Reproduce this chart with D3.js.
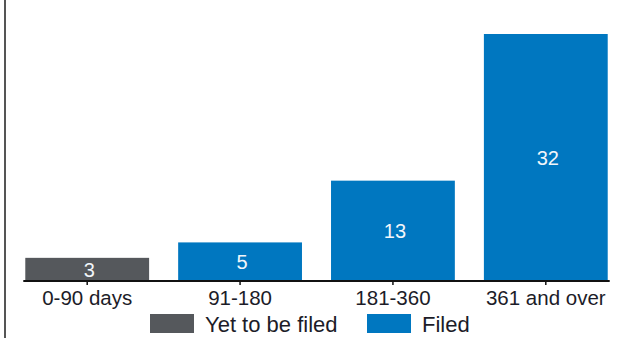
<!DOCTYPE html>
<html>
<head>
<meta charset="utf-8">
<script src="https://cdn.jsdelivr.net/npm/d3@7/dist/d3.min.js"></script>
<style>
  html, body { margin: 0; padding: 0; background: #fff; }
  svg { display: block; font-family: "Liberation Sans", Arial, sans-serif; }
</style>
</head>
<body>
<svg id="chart" width="627" height="338"></svg>
<script>
// Filing age buckets and counts
const categories = ["0-90 days", "91-180", "181-360", "361 and over"];
const values = [3, 5, 13, 32];
const groups = ["Yet to be filed", "Filed", "Filed", "Filed"];
const legendLabels = ["Yet to be filed", "Filed"];
const legendColors = ["#55585c", "#0077c0"];

const svg = d3.select("#chart");
const W = 627, H = 338;
const baseY = 281;

const color = d3.scaleOrdinal().domain(legendLabels).range(legendColors);

const x = d3.scaleBand()
  .domain(categories)
  .range([10, 623])
  .paddingInner(0.19)
  .paddingOuter(0.1);

const y = d3.scaleLinear()
  .domain([0, 32])
  .range([baseY, 34]);

// left frame line
svg.append("line")
  .attr("x1", 5).attr("x2", 5)
  .attr("y1", 0).attr("y2", H)
  .attr("stroke", "#555")
  .attr("stroke-width", 2);

// bars
const rows = categories.map((c, i) => ({ cat: c, value: values[i], group: groups[i] }));

svg.append("g")
  .selectAll("rect")
  .data(rows)
  .join("rect")
  .attr("x", d => x(d.cat))
  .attr("y", d => y(d.value))
  .attr("width", x.bandwidth())
  .attr("height", d => baseY - y(d.value))
  .attr("fill", d => color(d.group));

// value labels centred in each bar
const valueSize = 20;
svg.append("g")
  .selectAll("text")
  .data(rows)
  .join("text")
  .attr("x", d => x(d.cat) + x.bandwidth() / 2 + 2)
  .attr("y", d => (y(d.value) + baseY) / 2 + valueSize * 0.36)
  .attr("text-anchor", "middle")
  .attr("font-size", valueSize)
  .attr("fill", "#f2f6fa")
  .text(d => d.value);

// x axis
const axis = d3.axisBottom(x).tickSize(4).tickSizeOuter(0).tickPadding(5);
const gx = svg.append("g")
  .attr("transform", `translate(0,${baseY})`)
  .call(axis);
gx.select(".domain").remove();
gx.selectAll(".tick line").attr("stroke", "#111").attr("stroke-width", 1.5);
gx.selectAll(".tick text")
  .attr("font-size", 20.5)
  .attr("font-family", "'Liberation Sans', Arial, sans-serif")
  .attr("fill", "#1c1c28")
  .attr("dy", 0)
  .attr("y", 24);

// baseline
svg.append("line")
  .attr("x1", x(categories[0]) - 2)
  .attr("x2", x(categories[categories.length - 1]) + x.bandwidth() + 2)
  .attr("y1", baseY).attr("y2", baseY)
  .attr("stroke", "#111")
  .attr("stroke-width", 2);

// legend
const legendPos = [150, 367];
const lg = svg.append("g")
  .selectAll("g")
  .data(legendLabels)
  .join("g")
  .attr("transform", (d, i) => `translate(${legendPos[i]},314)`);
lg.append("rect")
  .attr("width", 44).attr("height", 19)
  .attr("fill", d => color(d));
lg.append("text")
  .attr("x", 55)
  .attr("y", 17.5)
  .attr("font-size", 22)
  .attr("fill", "#1c1c28")
  .text(d => d);
</script>
</body>
</html>
